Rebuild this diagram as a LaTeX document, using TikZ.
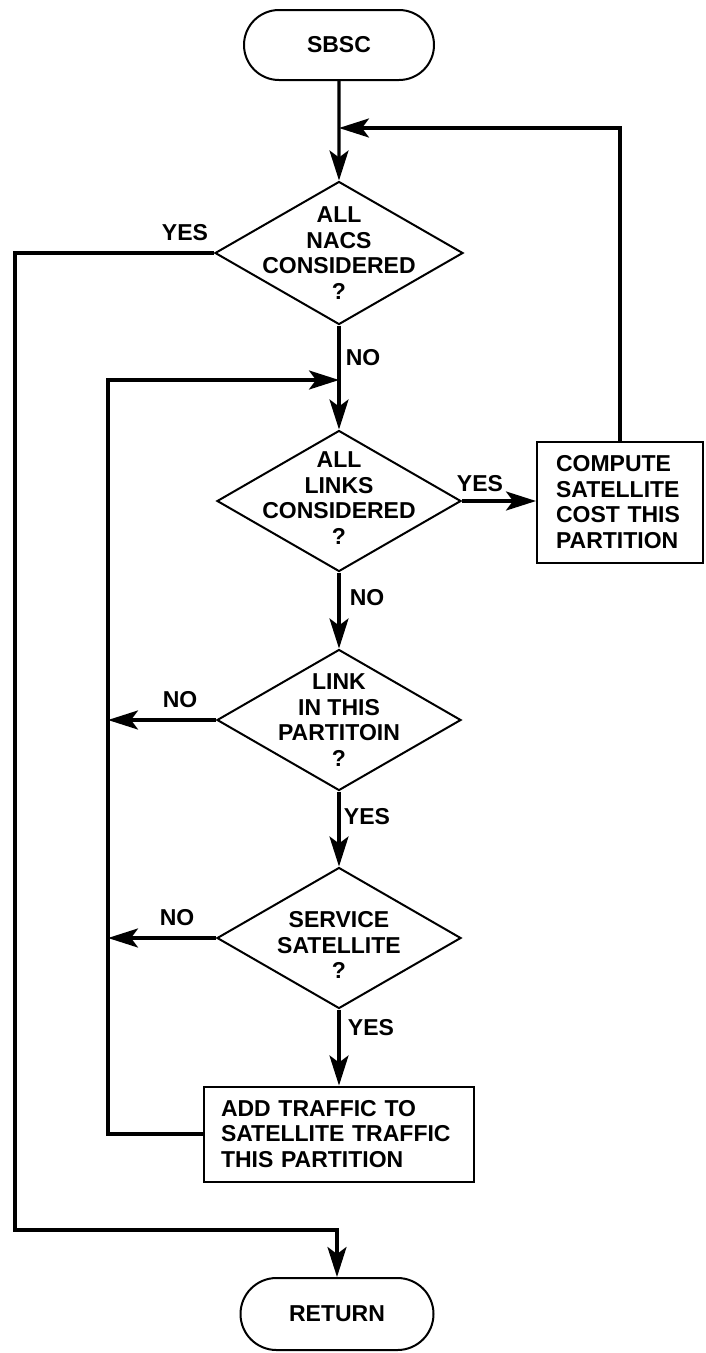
\documentclass[tikz,border=0pt]{standalone}
\usepackage{fontspec}
\setmainfont{Liberation Sans}
\usetikzlibrary{shapes.geometric,shapes.misc,arrows.meta}
\begin{document}
\begin{tikzpicture}[x=1pt,y=-1pt,
  font=\bfseries\fontsize{23}{25.5}\selectfont,
  outline/.style={draw, line width=2pt},
  terminal/.style={outline, rounded rectangle, minimum width=190pt, minimum height=70pt, inner sep=0pt},
  decision/.style={outline, diamond, inner sep=0pt, minimum width=244pt, minimum height=141pt},
  process/.style={outline, rectangle, align=left, inner xsep=0pt},
  flow/.style={line width=3.2pt, -{Stealth[length=30pt,width=19pt,inset=7pt]}},
  tag/.style={inner sep=0pt}
]
\useasboundingbox (0,0) rectangle (705,1353);

% start / end
\node[terminal] (sbsc) at (339,45) {SBSC};
\node[terminal, minimum width=193pt, minimum height=72pt] (ret) at (337,1314) {RETURN};

% decisions
\node[decision, minimum width=248pt, minimum height=143pt,
  label={[align=center]center:ALL\\NACS\\CONSIDERED\\?}] (d1) at (339,253) {};
\node[decision, label={[align=center, yshift=3pt]center:ALL\\LINKS\\CONSIDERED\\?}] (d2) at (339,501) {};
\node[decision, label={[align=center]center:LINK\\IN THIS\\PARTITOIN\\?}] (d3) at (339,720) {};
\node[decision, label={[align=center, yshift=-7pt]center:SERVICE\\SATELLITE\\?}] (d4) at (339,938) {};

% processes
\node[process, minimum width=166pt, minimum height=121pt, text width=128pt] (comp) at (620,502)
  {COMPUTE\\SATELLITE\\COST THIS\\PARTITION};
\node[process, minimum width=270pt, minimum height=95pt, text width=236pt] (add) at (339,1134)
  {ADD TRAFFIC TO\\SATELLITE TRAFFIC\\THIS PARTITION};

% route corners
\coordinate (top) at (339,128);
\coordinate (lp) at (108,380);
\coordinate (yl) at (15,1230);

% connectors
\draw[flow] (sbsc) -- (d1);
\draw[flow] (comp.north) |- (top);
\draw[flow] (d1.west) -| (yl) -- (yl -| ret) -- (ret);
\draw[flow] (d1) -- (d2);
\draw[flow] (add.west) -| (lp) -- (lp -| d2);
\draw[flow] (d2.east) -- (d2.east -| comp.west);
\draw[flow] (d2) -- (d3);
\draw[flow] (d3.west) -- (d3.west -| lp);
\draw[flow] (d3) -- (d4);
\draw[flow] (d4.west) -- (d4.west -| lp);
\draw[flow] (d4) -- (add);

% branch labels
\node[tag] (y1) at (185,233) {YES};
\node[tag] (n1) at (363,358) {NO};
\node[tag] (y2) at (480,484) {YES};
\node[tag] (n2) at (367,598) {NO};
\node[tag] (n3) at (180,700) {NO};
\node[tag] (y3) at (367,817) {YES};
\node[tag] (n4) at (177,918) {NO};
\node[tag] (y4) at (371,1028) {YES};
\end{tikzpicture}
\end{document}
